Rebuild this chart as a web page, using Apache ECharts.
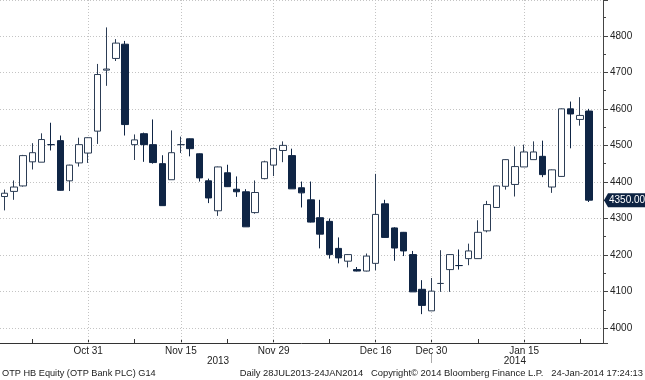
<!DOCTYPE html>
<html>
<head>
<meta charset="utf-8">
<script src="https://cdn.jsdelivr.net/npm/echarts@6/dist/echarts.min.js"></script>
<style>
html,body{margin:0;padding:0;background:#fff;}
#c{width:645px;height:380px;}
</style>
</head>
<body>
<div id="c"></div>
<script>
// ---- data ----
var dates = ['Oct 17','Oct 18','Oct 21','Oct 22','Oct 24','Oct 25','Oct 28','Oct 29','Oct 30','Oct 31',
  'Nov 4','Nov 5','Nov 6','Nov 7','Nov 8','Nov 11','Nov 12','Nov 13','Nov 14','Nov 15',
  'Nov 18','Nov 19','Nov 20','Nov 21','Nov 22','Nov 25','Nov 26','Nov 27','Nov 28','Nov 29',
  'Dec 2','Dec 3','Dec 4','Dec 5','Dec 6','Dec 9','Dec 10','Dec 11','Dec 12','Dec 13',
  'Dec 16','Dec 17','Dec 18','Dec 19','Dec 20','Dec 23','Dec 30',
  'Jan 2','Jan 3','Jan 6','Jan 7','Jan 8','Jan 9','Jan 10','Jan 13','Jan 14','Jan 15',
  'Jan 16','Jan 17','Jan 20','Jan 21','Jan 22','Jan 23','Jan 24'];
var openV  = [4360,4374,4389,4455,4454,4502,4513,4403,4452,4479,
  4539,4706,4738,4777,4502,4532,4502,4450,4406,4502,
  4518,4477,4403,4321,4425,4380,4373,4316,4409,4446,
  4486,4472,4384,4351,4302,4292,4218,4183,4160,4156,
  4177,4340,4274,4262,4201,4106,4047,
  4122,4160,4171,4190,4190,4266,4330,4388,4393,4441,
  4461,4470,4386,4415,4600,4571,4594];
var closeV = [4369,4386,4472,4480,4516,4502,4377,4446,4502,4521,
  4694,4709,4780,4557,4515,4502,4453,4335,4480,4502,
  4491,4411,4356,4441,4387,4373,4277,4371,4455,4491,
  4500,4381,4370,4290,4257,4201,4192,4201,4156,4197,
  4311,4248,4219,4211,4099,4062,4101,
  4122,4201,4171,4211,4262,4338,4389,4461,4442,4482,
  4482,4420,4433,4600,4586,4582,4350];
var lowV   = [4322,4351,4387,4434,4454,4486,4376,4375,4442,4452,
  4504,4663,4731,4527,4460,4455,4450,4335,4406,4479,
  4470,4401,4342,4307,4386,4359,4277,4313,4407,4416,
  4454,4381,4330,4289,4218,4190,4177,4166,4155,4155,
  4158,4247,4184,4197,4099,4038,4047,
  4099,4099,4160,4172,4190,4262,4329,4379,4360,4441,
  4461,4413,4370,4414,4492,4554,4345];
var highV  = [4379,4404,4474,4506,4533,4562,4527,4447,4521,4522,
  4723,4823,4791,4786,4530,4535,4571,4473,4541,4524,
  4519,4478,4409,4442,4447,4415,4380,4404,4458,4493,
  4511,4491,4401,4401,4351,4300,4248,4202,4167,4204,
  4422,4351,4276,4263,4211,4131,4137,
  4213,4202,4215,4231,4295,4348,4390,4462,4497,4502,
  4511,4513,4434,4601,4620,4632,4600];
var dateLabels = ['Oct 31','Nov 15','Nov 29','Dec 16','Dec 30','Jan 15'];
var minorTickDates = ['Oct 22','Nov 8','Nov 22','Dec 9','Jan 8','Jan 23'];
var yearLabels = {'Nov 21':'2013','Jan 14':'2014'};
var yearSeparator = 'Dec 30';
var lastPrice = 4350;
var lastPriceText = '4350.00';
var footerLeft = 'OTP HB Equity (OTP Bank PLC) G14';
var footerRight = 'Daily 28JUL2013-24JAN2014   Copyright\u00A9 2014 Bloomberg Finance L.P.   24-Jan-2014 17:24:13';

// ---- build ----
var cats = dates.concat(['']);
var ohlc = dates.map(function(d,i){ return [openV[i], closeV[i], lowV[i], highV[i]]; });
var tickSet = {};
dateLabels.concat(minorTickDates).forEach(function(d){ tickSet[d]=true; });
var labelSet = {};
dateLabels.forEach(function(d){ labelSet[d]=true; });

var FONT = 'Liberation Sans';
var chart = echarts.init(document.getElementById('c'), null, {renderer:'canvas'});
var option = {
  animation: false,
  backgroundColor: '#ffffff',
  grid: {left: -1.5, right: 42, top: -1, bottom: 37},
  xAxis: [{
    type: 'category', data: cats, boundaryGap: true,
    axisLine: {show: true, lineStyle: {color: '#333', width: 1}},
    axisTick: {show: true, inside: true, length: 4, alignWithLabel: true,
      interval: function(i, v){ return !!tickSet[v]; },
      lineStyle: {color: '#333'}},
    axisLabel: {show: true, margin: 3, fontSize: 10, fontFamily: FONT, color: '#222',
      interval: function(i, v){ return !!labelSet[v]; }},
    splitLine: {show: false}
  }, {
    type: 'category', data: cats, boundaryGap: true, position: 'bottom', offset: 10,
    axisLine: {show: false},
    axisTick: {show: true, inside: false, length: 10, alignWithLabel: true,
      interval: function(i, v){ return v === yearSeparator; },
      lineStyle: {color: '#aaa'}},
    axisLabel: {show: true, margin: 3, fontSize: 10, fontFamily: FONT, color: '#222',
      interval: function(i, v){ return !!yearLabels[v]; },
      formatter: function(v){ return yearLabels[v] || ''; }},
    splitLine: {show: false}
  }],
  yAxis: {
    type: 'value', position: 'right', min: 3959, max: 4898, scale: true,
    splitNumber: 9, minInterval: 100, maxInterval: 100,
    axisLine: {show: true, lineStyle: {color: '#444', width: 1}},
    axisTick: {show: true, inside: false, length: 5, lineStyle: {color: '#444'}},
    minorTick: {show: true, splitNumber: 2, length: 3, lineStyle: {color: '#444'}},
    axisLabel: {show: true, margin: 7, fontSize: 10, fontFamily: FONT, color: '#222',
      showMinLabel: false, showMaxLabel: false,
      formatter: function(v){ return String(v); }},
    splitLine: {show: true, lineStyle: {color: '#c4c4c4', type: [1, 2], width: 1}}
  },
  series: [{
    type: 'line', data: [], z: 0, silent: true,
    markLine: {
      silent: true, symbol: ['none','none'], animation: false,
      label: {show: false},
      lineStyle: {color: '#c4c4c4', type: [1, 2], width: 1},
      data: dateLabels.map(function(d){ return {xAxis: d}; })
    }
  }, {
    type: 'candlestick',
    z: 5,
    data: ohlc,
    barWidth: 7,
    itemStyle: {color: '#ffffff', color0: '#0f2545', borderColor: '#2c3d55', borderColor0: '#0f2545', borderWidth: 1}
  }]
};
chart.setOption(option);

var py = chart.convertToPixel({yAxisIndex: 0}, lastPrice);
var gridRight = 645 - 42;
chart.setOption({
  graphic: [
    {type: 'polygon', shape: {points: [[gridRight+1, py], [gridRight+5, py-7], [645, py-7], [645, py+7], [gridRight+5, py+7]]},
     style: {fill: '#0d2342'}, z: 100},
    {type: 'text', x: gridRight+6, y: py, style: {text: lastPriceText, fill: '#fff', font: '10px ' + FONT, verticalAlign: 'middle', align: 'left'}, z: 101},
    {type: 'text', x: 2, y: 373, style: {text: footerLeft, fill: '#222', font: '9.2px ' + FONT, verticalAlign: 'middle', align: 'left'}},
    {type: 'text', x: 643, y: 373, style: {text: footerRight, fill: '#222', font: '9.4px ' + FONT, verticalAlign: 'middle', align: 'right'}}
  ]
});
</script>
</body>
</html>
